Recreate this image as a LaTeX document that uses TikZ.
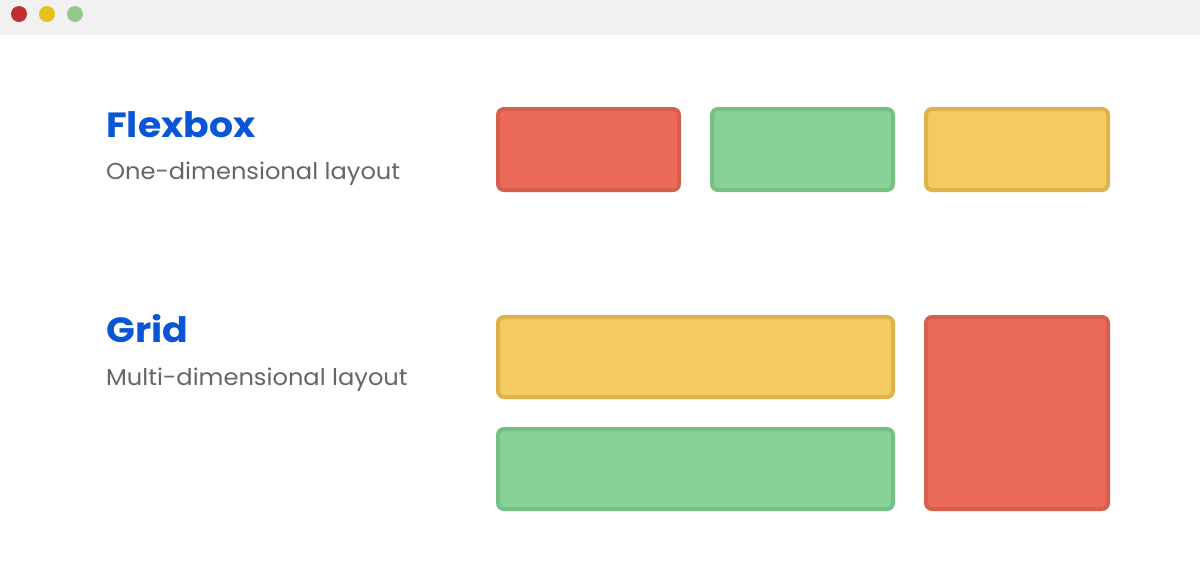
\documentclass[tikz,border=0pt]{standalone}
\usepackage{fontspec}
\setmainfont{Poppins}
\usetikzlibrary{shadows}
\definecolor{barbg}{HTML}{F1F1F1}
\definecolor{dotred}{HTML}{C0302F}
\definecolor{dotyel}{HTML}{E2C21B}
\definecolor{dotgrn}{HTML}{93C98A}
\definecolor{redf}{HTML}{EC6A5A}
\definecolor{redd}{HTML}{D66050}
\definecolor{grnf}{HTML}{87D397}
\definecolor{grnd}{HTML}{76C084}
\definecolor{yelf}{HTML}{F4CB5E}
\definecolor{yeld}{HTML}{DDB24B}
\definecolor{titleblue}{HTML}{0955D6}
\definecolor{subgray}{HTML}{666666}
\newcommand{\wideT}[1]{\scalebox{1.08}[1]{#1}}
\newcommand{\wideS}[1]{\scalebox{1.05}[1]{#1}}
\tikzset{
  box/.style={draw, line width=4pt, rounded corners=6pt, inner sep=0pt,
    drop shadow={shadow xshift=0pt, shadow yshift=-2pt, opacity=0.12, fill=black}},
  redbox/.style={box, fill=redf, draw=redd},
  grnbox/.style={box, fill=grnf, draw=grnd},
  yelbox/.style={box, fill=yelf, draw=yeld},
  dot/.style={circle, inner sep=0pt, minimum size=16pt},
  ttl/.style={anchor=base west, inner sep=0pt, text=titleblue, font=\fontsize{35}{40}\selectfont\bfseries},
  sub/.style={anchor=base west, inner sep=0pt, text=subgray, font=\fontsize{23}{28}\selectfont}
}
\begin{document}
\begin{tikzpicture}[x=1pt,y=-1pt]
\useasboundingbox (0,0) rectangle (1200,582);
\fill[white] (0,0) rectangle (1200,582);
\fill[barbg] (0,0) rectangle (1200,35);
\node[dot, fill=dotred] (d1) at (19,14) {};
\node[dot, fill=dotyel] (d2) at (47,14) {};
\node[dot, fill=dotgrn] (d3) at (75,14) {};

\node[ttl] (t1) at (106,137) {\wideT{Flexbox}};
\node[sub] (s1) at (106,179) {\wideS{One-dimensional layout}};
\node[ttl] (t2) at (106,342) {\wideT{Grid}};
\node[sub] (s2) at (106,385) {\wideS{Multi-dimensional layout}};

\node[redbox, minimum width=181pt, minimum height=81pt] (f1) at (588.5,149.5) {};
\node[grnbox, minimum width=181pt, minimum height=81pt] (f2) at (802.5,149.5) {};
\node[yelbox, minimum width=182pt, minimum height=81pt] (f3) at (1017,149.5) {};

\node[yelbox, minimum width=395pt, minimum height=80pt] (g1) at (695.5,357) {};
\node[grnbox, minimum width=395pt, minimum height=80pt] (g2) at (695.5,469) {};
\node[redbox, minimum width=182pt, minimum height=192pt] (g3) at (1017,413) {};
\end{tikzpicture}
\end{document}
